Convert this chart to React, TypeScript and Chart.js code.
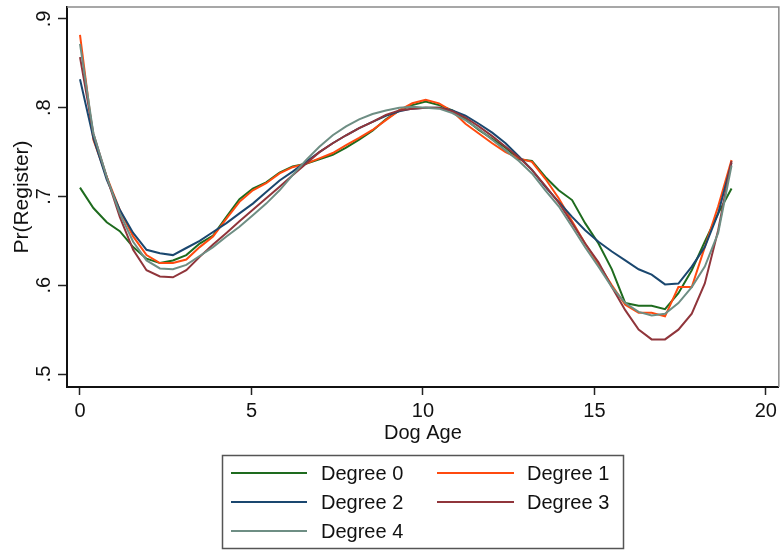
import React, { useEffect, useRef } from "react";
import { Chart, registerables } from "chart.js";

Chart.register(...registerables);

// ---- data ----
const ages = [
  0, 0.39, 0.78, 1.16, 1.55, 1.94, 2.33, 2.71, 3.1, 3.49,
  3.88, 4.27, 4.65, 5.04, 5.43, 5.82, 6.2, 6.59, 6.98, 7.37,
  7.76, 8.14, 8.53, 8.92, 9.31, 9.69, 10.08, 10.47, 10.86, 11.24,
  11.63, 12.02, 12.41, 12.8, 13.18, 13.57, 13.96, 14.35, 14.73, 15.12,
  15.51, 15.9, 16.29, 16.67, 17.06, 17.45, 17.84, 18.22, 18.61, 19,
];

const degree0 = [
  0.71, 0.687, 0.671, 0.661, 0.643, 0.63, 0.625, 0.628, 0.634, 0.647,
  0.656, 0.677, 0.697, 0.709, 0.716, 0.727, 0.734, 0.737, 0.742, 0.747,
  0.755, 0.764, 0.774, 0.787, 0.797, 0.803, 0.807, 0.803, 0.797, 0.787,
  0.775, 0.765, 0.755, 0.742, 0.74, 0.722, 0.707, 0.696, 0.67, 0.647,
  0.618, 0.58, 0.577, 0.577, 0.573, 0.591, 0.617, 0.649, 0.681, 0.709,
];

const degree1 = [
  0.882, 0.764, 0.722, 0.685, 0.655, 0.634, 0.625, 0.625, 0.629, 0.643,
  0.655, 0.675, 0.694, 0.707, 0.715, 0.726, 0.733, 0.737, 0.743, 0.749,
  0.758, 0.766, 0.775, 0.786, 0.797, 0.805, 0.809, 0.805, 0.796, 0.782,
  0.771, 0.76, 0.75, 0.743, 0.739, 0.72, 0.698, 0.672, 0.647, 0.624,
  0.6, 0.578, 0.569, 0.569, 0.565, 0.598, 0.598, 0.643, 0.689, 0.741,
];

const degree2 = [
  0.832, 0.766, 0.719, 0.685, 0.659, 0.64, 0.636, 0.634, 0.642, 0.65,
  0.66, 0.67, 0.681, 0.692, 0.705, 0.718, 0.728, 0.739, 0.75, 0.76,
  0.769, 0.777, 0.784, 0.791, 0.796, 0.799, 0.8, 0.8, 0.797, 0.791,
  0.782, 0.772, 0.76, 0.745, 0.73, 0.711, 0.694, 0.677, 0.662, 0.649,
  0.638, 0.628, 0.618, 0.612, 0.601, 0.602, 0.621, 0.643, 0.681, 0.738,
];

const degree3 = [
  0.857, 0.771, 0.722, 0.677, 0.64, 0.617, 0.61, 0.609, 0.617, 0.632,
  0.646, 0.659, 0.672, 0.685, 0.698, 0.711, 0.724, 0.737, 0.75, 0.76,
  0.769, 0.777, 0.784, 0.792, 0.797, 0.799, 0.8, 0.8, 0.796, 0.789,
  0.779, 0.768, 0.756, 0.744, 0.73, 0.712, 0.693, 0.67, 0.647, 0.626,
  0.598, 0.572, 0.55, 0.539, 0.539, 0.55, 0.568, 0.602, 0.662, 0.74,
];

const degree4 = [
  0.872, 0.771, 0.722, 0.681, 0.649, 0.628, 0.619, 0.618, 0.623, 0.633,
  0.643, 0.655, 0.666, 0.679, 0.692, 0.707, 0.724, 0.741, 0.756, 0.769,
  0.779, 0.787, 0.793, 0.797, 0.8, 0.801, 0.8, 0.799, 0.794, 0.786,
  0.776, 0.764, 0.752, 0.74, 0.726, 0.707, 0.689, 0.666, 0.643, 0.621,
  0.598, 0.58, 0.57, 0.566, 0.568, 0.58, 0.598, 0.621, 0.659, 0.735,
];

const seriesNames = ["Degree 0", "Degree 1", "Degree 2", "Degree 3", "Degree 4"];
const seriesValues = [degree0, degree1, degree2, degree3, degree4];
const seriesColors = ["#1e6b1e", "#ff4a0f", "#1a476f", "#90353b", "#6e8e84"];

const xTicks = [0, 5, 10, 15, 20];
const yTicks = [0.5, 0.6, 0.7, 0.8, 0.9];
const yTickLabels = [".5", ".6", ".7", ".8", ".9"];
const xTitle = "Dog Age";
const yTitle = "Pr(Register)";

const FONT = '"Liberation Sans", Arial, Helvetica, sans-serif';

const decorPlugin = {
  id: "decor",
  beforeDatasetsDraw(chart: any) {
    const { ctx, chartArea } = chart;
    const { left, top, right, bottom } = chartArea;
    ctx.save();
    ctx.strokeStyle = "#8a8a8a";
    ctx.lineWidth = 1.5;
    ctx.beginPath();
    ctx.moveTo(left, top);
    ctx.lineTo(right, top);
    ctx.lineTo(right, bottom);
    ctx.stroke();
    ctx.restore();
  },
  afterDraw(chart: any) {
    const { ctx, chartArea } = chart;
    const ys = chart.scales.y;
    const xs = chart.scales.x;
    ctx.save();
    ctx.fillStyle = "#111";
    ctx.font = `20px ${FONT}`;
    ctx.textAlign = "center";
    ctx.textBaseline = "alphabetic";
    yTicks.forEach((v, i) => {
      ctx.save();
      ctx.translate(50, ys.getPixelForValue(v));
      ctx.rotate(-Math.PI / 2);
      ctx.fillText(yTickLabels[i], 0, 0);
      ctx.restore();
    });
    ctx.save();
    ctx.font = `21px ${FONT}`;
    ctx.translate(28, (chartArea.top + chartArea.bottom) / 2);
    ctx.rotate(-Math.PI / 2);
    ctx.fillText(yTitle, 0, 0);
    ctx.restore();

    ctx.textBaseline = "middle";
    ctx.fillText(xTitle, xs.getPixelForValue(10), 433);

    // legend
    ctx.strokeStyle = "#555";
    ctx.lineWidth = 1.5;
    ctx.strokeRect(222.5, 455.5, 401, 93);
    const colLineStart = [231, 437];
    const colLineEnd = [307, 514];
    const colText = [321, 527];
    const rowY = [473, 502, 531];
    ctx.textAlign = "left";
    ctx.font = `20px ${FONT}`;
    seriesNames.forEach((name, i) => {
      const col = i % 2;
      const row = Math.floor(i / 2);
      const y = rowY[row];
      ctx.strokeStyle = seriesColors[i];
      ctx.lineWidth = 2;
      ctx.beginPath();
      ctx.moveTo(colLineStart[col], y);
      ctx.lineTo(colLineEnd[col], y);
      ctx.stroke();
      ctx.fillStyle = "#111";
      ctx.fillText(name, colText[col], y + 1);
    });
    ctx.restore();
  },
};

export default function App() {
  const canvasRef = useRef<HTMLCanvasElement | null>(null);

  useEffect(() => {
    const canvas = canvasRef.current;
    if (!canvas) return;
    const chart = new Chart(canvas, {
      type: "line",
      data: {
        datasets: seriesNames.map((name, i) => ({
          label: name,
          data: ages.map((a, j) => ({ x: a, y: seriesValues[i][j] })),
          borderColor: seriesColors[i],
          backgroundColor: seriesColors[i],
          borderWidth: 2,
          pointRadius: 0,
          tension: 0,
          fill: false,
          order: seriesNames.length - i,
        })),
      },
      options: {
        animation: false,
        responsive: false,
        maintainAspectRatio: false,
        devicePixelRatio: 1,
        layout: { padding: { left: 0, right: 2, top: 7, bottom: 124 } },
        plugins: {
          legend: { display: false },
          tooltip: { enabled: false },
        },
        scales: {
          x: {
            type: "linear",
            min: -0.379,
            max: 20.379,
            afterBuildTicks: (s: any) => {
              s.ticks = xTicks.map((v) => ({ value: v }));
            },
            afterFit: (s: any) => {
              s.height = 40;
            },
            ticks: {
              color: "#111",
              font: { family: FONT, size: 20 },
              padding: 4,
              maxRotation: 0,
              autoSkip: false,
            },
            grid: {
              display: true,
              drawOnChartArea: false,
              drawTicks: true,
              tickLength: 8,
              tickColor: "#222",
              tickWidth: 1.5,
            },
            border: { display: true, color: "#111", width: 2 },
          },
          y: {
            type: "linear",
            min: 0.4854,
            max: 0.9135,
            afterBuildTicks: (s: any) => {
              s.ticks = yTicks.map((v) => ({ value: v }));
            },
            afterFit: (s: any) => {
              s.width = 67;
            },
            ticks: { display: false },
            grid: {
              display: true,
              drawOnChartArea: false,
              drawTicks: true,
              tickLength: 9,
              tickColor: "#222",
              tickWidth: 1.5,
            },
            border: { display: true, color: "#111", width: 2 },
          },
        },
      },
      plugins: [decorPlugin],
    } as any);
    return () => chart.destroy();
  }, []);

  return (
    <div style={{ position: "absolute", left: 0, top: 0, width: 781, height: 551, background: "#fff" }}>
      <canvas ref={canvasRef} width={781} height={551} style={{ display: "block" }} />
    </div>
  );
}
